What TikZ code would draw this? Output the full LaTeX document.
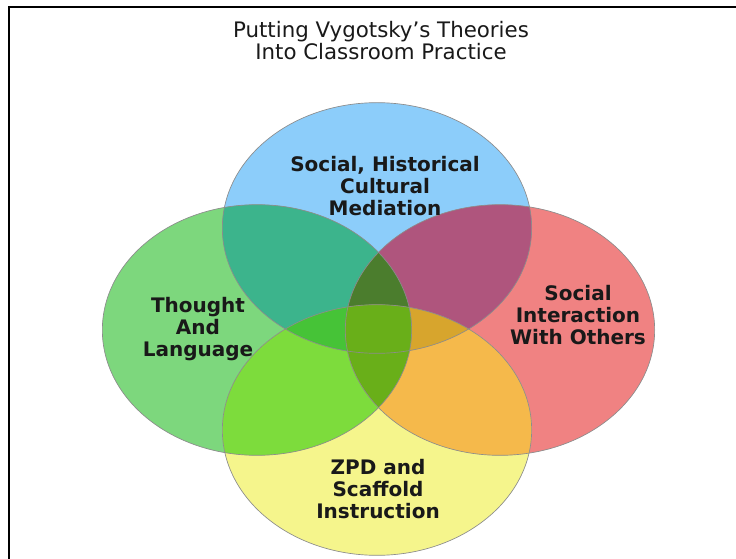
\documentclass[tikz,border=0pt]{standalone}
\usepackage{fontspec}
\setmainfont{DejaVu Sans}
\usepackage{tikz}

\definecolor{skyset}{RGB}{140,205,250}
\definecolor{leafset}{RGB}{125,215,125}
\definecolor{roseset}{RGB}{240,130,130}
\definecolor{sunset}{RGB}{245,245,140}
\definecolor{skyleaf}{RGB}{60,180,140}
\definecolor{skyrose}{RGB}{175,85,125}
\definecolor{leafsun}{RGB}{125,220,60}
\definecolor{rosesun}{RGB}{245,185,75}
\definecolor{skyleafrose}{RGB}{75,125,45}
\definecolor{skyleafsun}{RGB}{70,195,55}
\definecolor{skyrosesun}{RGB}{215,165,45}
\definecolor{coreset}{RGB}{105,175,25}

\newcommand{\skyshape}{(377,228) ellipse [x radius=116pt, y radius=94pt]}
\newcommand{\leafshape}{(257,330) ellipse [x radius=116pt, y radius=94pt]}
\newcommand{\roseshape}{(500,330) ellipse [x radius=116pt, y radius=94pt]}
\newcommand{\sunshape}{(377,430) ellipse [x radius=116pt, y radius=94pt]}

\begin{document}
\begin{tikzpicture}[x=0.75pt,y=-0.75pt,
  rim/.style={draw=black!45,line width=0.5pt},
  frame/.style={draw=black,line width=1.4pt},
  heading/.style={align=center,font=\fontsize{16}{16.5}\selectfont,text=black!90},
  setlabel/.style={align=center,font=\bfseries\fontsize{15}{16.5}\selectfont,text=black!90}]

  \useasboundingbox (0,0) rectangle (736,559);
  \fill[white] (0,0) rectangle (736,559);
  \draw[frame] (9,559) -- (9,7) -- (736,7);

  % the four sets
  \fill[skyset] \skyshape;
  \fill[leafset] \leafshape;
  \fill[roseset] \roseshape;
  \fill[sunset] \sunshape;

  % two at a time
  \begin{scope}\clip \skyshape; \fill[skyleaf] \leafshape; \end{scope}
  \begin{scope}\clip \skyshape; \fill[skyrose] \roseshape; \end{scope}
  \begin{scope}\clip \leafshape; \fill[leafsun] \sunshape; \end{scope}
  \begin{scope}\clip \roseshape; \fill[rosesun] \sunshape; \end{scope}

  % three at a time
  \begin{scope}\clip \skyshape; \clip \leafshape; \fill[skyleafrose] \roseshape; \end{scope}
  \begin{scope}\clip \skyshape; \clip \leafshape; \fill[skyleafsun] \sunshape; \end{scope}
  \begin{scope}\clip \skyshape; \clip \roseshape; \fill[skyrosesun] \sunshape; \end{scope}
  \begin{scope}\clip \leafshape; \clip \roseshape; \fill[coreset] \sunshape; \end{scope}

  \draw[rim] \skyshape;
  \draw[rim] \leafshape;
  \draw[rim] \roseshape;
  \draw[rim] \sunshape;

  \node[heading] (title) at (381,41) {Putting Vygotsky’s Theories\\Into Classroom Practice};

  \node[setlabel] (mediation) at (385,186) {Social, Historical\\Cultural\\Mediation};
  \node[setlabel] (thought) at (198,329) {Thought\\And\\Language};
  \node[setlabel] (interaction) at (578,315) {Social\\Interaction\\With Others};
  \node[setlabel] (zpd) at (378,489) {ZPD and\\Scaffold\\Instruction};
\end{tikzpicture}
\end{document}
